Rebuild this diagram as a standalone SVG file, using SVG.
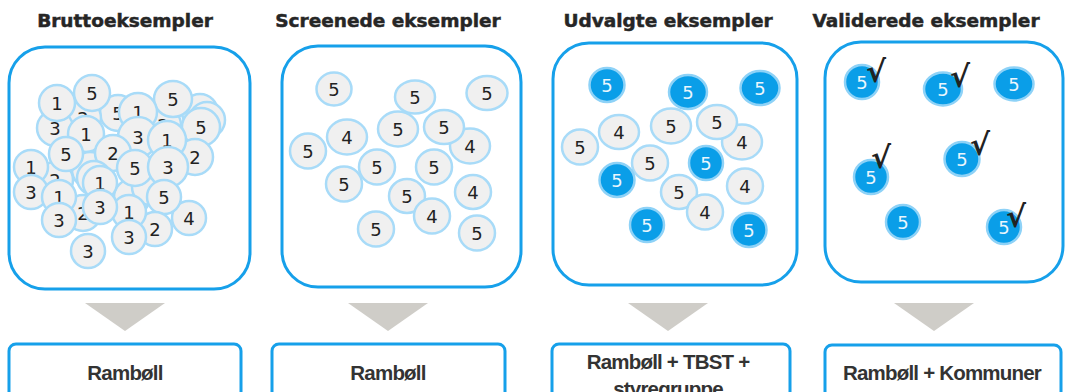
<svg xmlns="http://www.w3.org/2000/svg" width="1065" height="392" viewBox="0 0 1065 392">
<style>
.title{font-family:"DejaVu Sans",Verdana,sans-serif;font-weight:bold;font-size:18.5px;fill:#262626;stroke:#262626;stroke-width:0.5;text-anchor:middle}
.panel{fill:#ffffff;stroke:#16a0ea;stroke-width:3}
.box{fill:#ffffff;stroke:#16a0ea;stroke-width:3}
.arrow{fill:#cfcdc8}
.c{fill:#f0f0f0;stroke:#a8dbf8;stroke-width:2.5}
.b{fill:#0a9ee8;stroke:#8ed2f7;stroke-width:2.5}
.d{font-family:"DejaVu Sans",Verdana,sans-serif;font-size:18px;fill:#222222;text-anchor:middle}
.w{font-family:"DejaVu Sans",Verdana,sans-serif;font-size:18px;fill:#eaf6fd;text-anchor:middle}
.ck{font-family:"DejaVu Sans",sans-serif;font-weight:bold;font-size:30px;fill:#222222}
.lbl{font-family:"Liberation Sans",Arial,sans-serif;font-weight:bold;font-size:20.5px;fill:#333333;text-anchor:middle;letter-spacing:-0.8px}
</style>

<g id="titles">
<text class="title" x="125" y="27">Bruttoeksempler</text>
<text class="title" x="388" y="27">Screenede eksempler</text>
<text class="title" x="668" y="27">Udvalgte eksempler</text>
<text class="title" x="926" y="27">Validerede eksempler</text>
</g>

<g id="panel1">
<rect class="panel" x="9" y="47" width="241" height="242" rx="36"/>
<g id="p1-circles">
<ellipse class="c" cx="200" cy="112" rx="18" ry="18"/>
<ellipse class="c" cx="207" cy="120" rx="18" ry="18"/>
<ellipse class="c" cx="118" cy="113" rx="18" ry="18"/><text class="d" x="118" y="119.5">5</text>
<ellipse class="c" cx="83" cy="118" rx="18" ry="18"/><text class="d" x="83" y="124.5">2</text>
<ellipse class="c" cx="163" cy="125" rx="18" ry="18"/><text class="d" x="163" y="131.5">2</text>
<ellipse class="c" cx="87" cy="157" rx="18" ry="18"/><text class="d" x="87" y="163.5">2</text>
<ellipse class="c" cx="90" cy="170" rx="18" ry="18"/>
<ellipse class="c" cx="55" cy="180" rx="18" ry="18"/><text class="d" x="55" y="186.5">2</text>
<ellipse class="c" cx="132" cy="197" rx="18" ry="18"/>
<ellipse class="c" cx="150" cy="187" rx="18" ry="18"/>
<ellipse class="c" cx="83" cy="213" rx="18" ry="18"/><text class="d" x="83" y="219.5">2</text>
<ellipse class="c" cx="55" cy="128" rx="18" ry="18"/><text class="d" x="55" y="134.5">3</text>
<ellipse class="c" cx="57" cy="103" rx="18" ry="18"/><text class="d" x="57" y="109.5">1</text>
<ellipse class="c" cx="92" cy="93" rx="18" ry="18"/><text class="d" x="92" y="99.5">5</text>
<ellipse class="c" cx="173" cy="99" rx="19" ry="18"/><text class="d" x="173" y="105.5">5</text>
<ellipse class="c" cx="138" cy="112" rx="19" ry="19"/><text class="d" x="138" y="118.5">1</text>
<ellipse class="c" cx="201" cy="127" rx="19" ry="19"/><text class="d" x="201" y="133.5">5</text>
<ellipse class="c" cx="86" cy="134" rx="18" ry="18"/><text class="d" x="86" y="140.5">1</text>
<ellipse class="c" cx="195" cy="157" rx="18" ry="18"/><text class="d" x="195" y="163.5">2</text>
<ellipse class="c" cx="138" cy="137" rx="20" ry="20"/><text class="d" x="138" y="143.5">3</text>
<ellipse class="c" cx="167" cy="140" rx="19" ry="19"/><text class="d" x="167" y="146.5">1</text>
<ellipse class="c" cx="113" cy="153" rx="18" ry="18"/><text class="d" x="113" y="159.5">2</text>
<ellipse class="c" cx="66" cy="154" rx="17" ry="17"/><text class="d" x="66" y="160.5">5</text>
<ellipse class="c" cx="31" cy="167" rx="17" ry="17"/><text class="d" x="31" y="173.5">1</text>
<ellipse class="c" cx="135" cy="168" rx="18" ry="18"/><text class="d" x="135" y="174.5">5</text>
<ellipse class="c" cx="168" cy="167" rx="20" ry="20"/><text class="d" x="168" y="173.5">3</text>
<ellipse class="c" cx="31" cy="192" rx="17" ry="17"/><text class="d" x="31" y="198.5">3</text>
<ellipse class="c" cx="94" cy="178" rx="17" ry="17"/>
<ellipse class="c" cx="100" cy="183" rx="17" ry="17"/><text class="d" x="100" y="189.5">1</text>
<ellipse class="c" cx="59" cy="197" rx="17" ry="17"/><text class="d" x="59" y="203.5">1</text>
<ellipse class="c" cx="189" cy="218" rx="17" ry="17"/><text class="d" x="189" y="224.5">4</text>
<ellipse class="c" cx="164" cy="197" rx="17" ry="17"/><text class="d" x="164" y="203.5">5</text>
<ellipse class="c" cx="155" cy="229" rx="17" ry="17"/><text class="d" x="155" y="235.5">2</text>
<ellipse class="c" cx="129" cy="212" rx="17" ry="17"/><text class="d" x="129" y="218.5">1</text>
<ellipse class="c" cx="100" cy="207" rx="17" ry="17"/><text class="d" x="100" y="213.5">3</text>
<ellipse class="c" cx="59" cy="220" rx="17" ry="17"/><text class="d" x="59" y="226.5">3</text>
<ellipse class="c" cx="129" cy="237" rx="17" ry="17"/><text class="d" x="129" y="243.5">3</text>
<ellipse class="c" cx="88" cy="251" rx="17" ry="17"/><text class="d" x="88" y="257.5">3</text>
</g>
</g>

<g id="panel2">
<rect class="panel" x="282" y="46" width="239" height="241" rx="36"/>
<ellipse class="c" cx="334" cy="89" rx="17.5" ry="16.5"/><text class="d" x="334" y="95.5">5</text>
<ellipse class="c" cx="415" cy="97" rx="20" ry="16.5"/><text class="d" x="415" y="103.5">5</text>
<ellipse class="c" cx="487" cy="93" rx="20.5" ry="17"/><text class="d" x="487" y="99.5">5</text>
<ellipse class="c" cx="347" cy="137" rx="20" ry="17.5"/><text class="d" x="347" y="143.5">4</text>
<ellipse class="c" cx="470" cy="146" rx="20" ry="17.5"/><text class="d" x="470" y="152.5">4</text>
<ellipse class="c" cx="398" cy="129" rx="20" ry="17.5"/><text class="d" x="398" y="135.5">5</text>
<ellipse class="c" cx="444" cy="127" rx="20" ry="17"/><text class="d" x="444" y="133.5">5</text>
<ellipse class="c" cx="308" cy="151" rx="18" ry="17.5"/><text class="d" x="308" y="157.5">5</text>
<ellipse class="c" cx="377" cy="167" rx="18" ry="17.5"/><text class="d" x="377" y="173.5">5</text>
<ellipse class="c" cx="434" cy="167" rx="18" ry="17.5"/><text class="d" x="434" y="173.5">5</text>
<ellipse class="c" cx="344" cy="184" rx="18" ry="17.5"/><text class="d" x="344" y="190.5">5</text>
<ellipse class="c" cx="473" cy="192" rx="18" ry="17"/><text class="d" x="473" y="198.5">4</text>
<ellipse class="c" cx="407" cy="196" rx="18" ry="17"/><text class="d" x="407" y="202.5">5</text>
<ellipse class="c" cx="432" cy="216" rx="18" ry="17.5"/><text class="d" x="432" y="222.5">4</text>
<ellipse class="c" cx="376" cy="229" rx="18" ry="17.5"/><text class="d" x="376" y="235.5">5</text>
<ellipse class="c" cx="477" cy="233" rx="18" ry="17.5"/><text class="d" x="477" y="239.5">5</text>
</g>

<g id="panel3">
<rect class="panel" x="553" y="43" width="244" height="242" rx="36"/>
<ellipse class="b" cx="607" cy="85" rx="17.5" ry="17"/><text class="w" x="607" y="91.5">5</text>
<ellipse class="b" cx="688" cy="92" rx="19" ry="17"/><text class="w" x="688" y="98.5">5</text>
<ellipse class="b" cx="760" cy="88" rx="19.5" ry="17"/><text class="w" x="760" y="94.5">5</text>
<ellipse class="c" cx="619" cy="132" rx="20" ry="17"/><text class="d" x="619" y="138.5">4</text>
<ellipse class="c" cx="742" cy="142" rx="20" ry="17.5"/><text class="d" x="742" y="148.5">4</text>
<ellipse class="c" cx="671" cy="126" rx="20" ry="17.5"/><text class="d" x="671" y="132.5">5</text>
<ellipse class="c" cx="717" cy="122" rx="20" ry="17"/><text class="d" x="717" y="128.5">5</text>
<ellipse class="c" cx="580" cy="147" rx="18" ry="17.5"/><text class="d" x="580" y="153.5">5</text>
<ellipse class="c" cx="650" cy="163" rx="18" ry="17.5"/><text class="d" x="650" y="169.5">5</text>
<ellipse class="b" cx="706" cy="163" rx="17" ry="17"/><text class="w" x="706" y="169.5">5</text>
<ellipse class="b" cx="617" cy="180" rx="17.5" ry="17"/><text class="w" x="617" y="186.5">5</text>
<ellipse class="c" cx="745" cy="186" rx="18" ry="17.5"/><text class="d" x="745" y="192.5">4</text>
<ellipse class="c" cx="679" cy="192" rx="18" ry="17"/><text class="d" x="679" y="198.5">5</text>
<ellipse class="c" cx="705" cy="212" rx="18" ry="17.5"/><text class="d" x="705" y="218.5">4</text>
<ellipse class="b" cx="647" cy="225" rx="17" ry="17"/><text class="w" x="647" y="231.5">5</text>
<ellipse class="b" cx="749" cy="230" rx="17.5" ry="17"/><text class="w" x="749" y="236.5">5</text>
</g>

<g id="panel4">
<rect class="panel" x="825" y="42" width="238" height="240" rx="36"/>
<ellipse class="b" cx="862" cy="82" rx="17" ry="17"/><text class="w" x="862" y="88.5">5</text><text class="ck" x="866" y="82">√</text>
<ellipse class="b" cx="943" cy="89" rx="19" ry="16.5"/><text class="w" x="943" y="95.5">5</text><text class="ck" x="950" y="87">√</text>
<ellipse class="b" cx="1014" cy="84" rx="19.5" ry="16.5"/><text class="w" x="1014" y="90.5">5</text>
<ellipse class="b" cx="871" cy="177" rx="17" ry="17"/><text class="w" x="871" y="183.5">5</text><text class="ck" x="871" y="168">√</text>
<ellipse class="b" cx="962" cy="159" rx="17.5" ry="17"/><text class="w" x="962" y="165.5">5</text><text class="ck" x="970" y="155">√</text>
<ellipse class="b" cx="903" cy="222" rx="17" ry="17"/><text class="w" x="903" y="228.5">5</text>
<ellipse class="b" cx="1004" cy="227" rx="17" ry="17"/><text class="w" x="1004" y="233.5">5</text><text class="ck" x="1006" y="227">√</text>
</g>

<g id="connectors">
<polygon class="arrow" points="85,303 165,303 125,331"/>
<polygon class="arrow" points="348,303 428,303 388,331"/>
<polygon class="arrow" points="628,303 708,303 668,331"/>
<polygon class="arrow" points="894,303 974,303 934,331"/>
</g>

<g id="box1">
<rect class="box" x="9" y="344" width="232" height="70" rx="7"/>
<text class="lbl" x="125" y="380">Rambøll</text>
</g>
<g id="box2">
<rect class="box" x="272" y="344" width="233" height="70" rx="7"/>
<text class="lbl" x="388" y="380">Rambøll</text>
</g>
<g id="box3">
<rect class="box" x="552" y="344" width="238" height="70" rx="7"/>
<text class="lbl" x="668" y="369">Rambøll + TBST +</text>
<text class="lbl" x="668" y="396">styregruppe</text>
</g>
<g id="box4">
<rect class="box" x="825" y="345" width="236" height="70" rx="7"/>
<text class="lbl" x="942" y="380">Rambøll + Kommuner</text>
</g>
</svg>
